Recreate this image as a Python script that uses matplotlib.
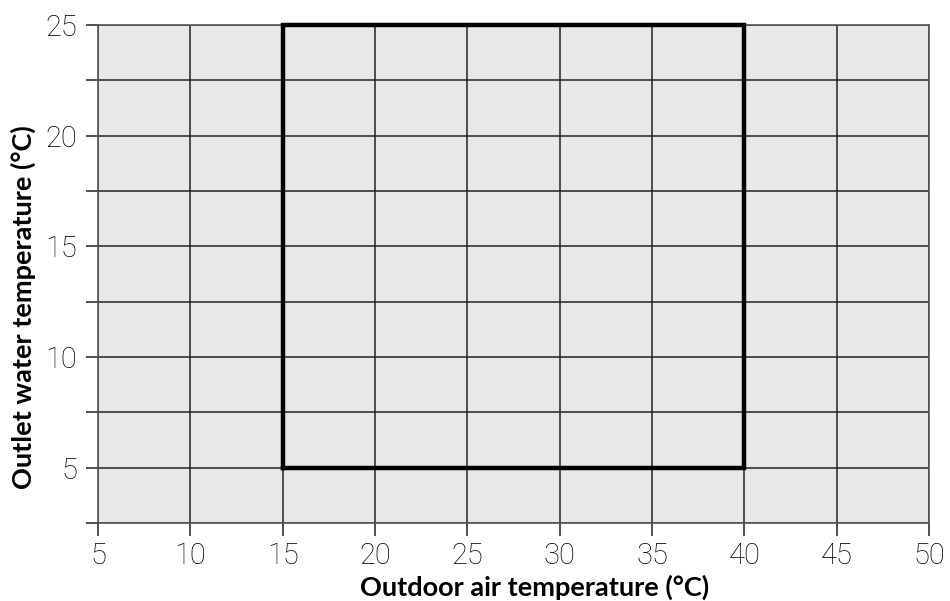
import numpy as np
import matplotlib
matplotlib.use('Agg')
import matplotlib.pyplot as plt
from matplotlib.ticker import MultipleLocator

# operating envelope (outdoor air temp vs outlet water temp)
env_x = [15, 40, 40, 15, 15]
env_y = [5, 5, 25, 25, 5]

x_ticks = [5, 10, 15, 20, 25, 30, 35, 40, 45, 50]
y_ticks = [5, 10, 15, 20, 25]

plt.rcParams['font.family'] = ['Lato', 'DejaVu Sans']

bg_color   = "#e8e8e8"
grid_color = "#222222"

fig = plt.figure(figsize=(9.5, 6.01), dpi=100)
ax = fig.add_axes([0.1032, 0.1298, 0.8747, 0.8286])
ax.set_facecolor(bg_color)

ax.set_xlim(5, 50)
ax.set_ylim(2.5, 25)
ax.set_xticks(x_ticks)
ax.set_yticks(y_ticks)
ax.yaxis.set_minor_locator(MultipleLocator(2.5))

ax.grid(True, which='both', color=grid_color, linewidth=1.1)
ax.set_axisbelow(True)

ax.plot(env_x, env_y, color='black', linewidth=3.2, solid_joinstyle='miter', clip_on=False, zorder=5)

ax.tick_params(which='both', direction='out', length=9, width=1.1, color=grid_color,
               labelsize=21, labelcolor='black')
ax.tick_params(axis='x', pad=5)
ax.tick_params(axis='y', pad=6)
for lab in ax.get_xticklabels() + ax.get_yticklabels():
    lab.set_family(['Roboto', 'DejaVu Sans'])
    lab.set_fontweight('light')

for side in ['left', 'bottom', 'right', 'top']:
    ax.spines[side].set_color('#555555')
    ax.spines[side].set_linewidth(1.2)

ax.set_xlabel('Outdoor air temperature (°C)', fontsize=19.5, fontweight='bold', va='center')
ax.xaxis.set_label_coords(0.525, -0.130)
ax.set_ylabel('Outlet water temperature (°C)', fontsize=19.5, fontweight='bold', va='center')
ax.yaxis.set_label_coords(-0.090, 0.433)

plt.savefig('out.png', dpi=100)
